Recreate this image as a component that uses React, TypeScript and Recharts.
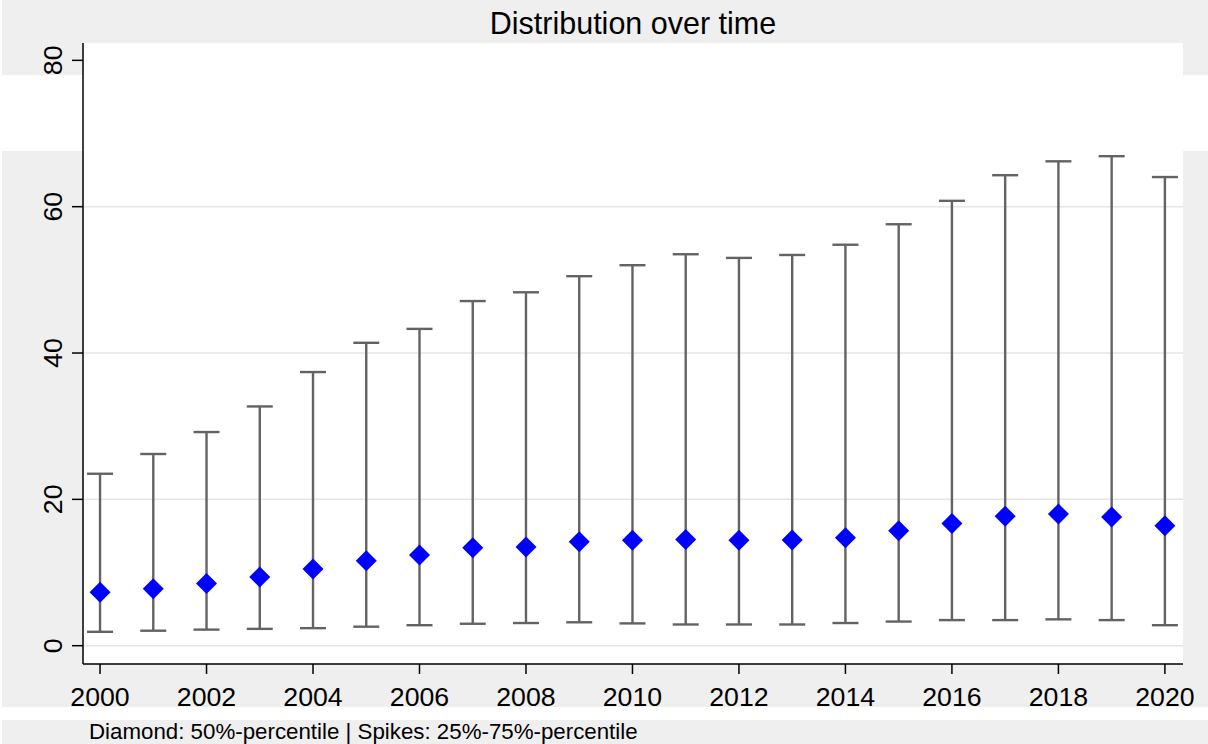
import React from "react"
import {
  ComposedChart,
  Scatter,
  ErrorBar,
  XAxis,
  YAxis,
  CartesianGrid,
} from "recharts"

const years = [
  2000, 2001, 2002, 2003, 2004, 2005, 2006, 2007, 2008, 2009, 2010,
  2011, 2012, 2013, 2014, 2015, 2016, 2017, 2018, 2019, 2020,
]
// 50th percentile (diamonds)
const median = [
  7.3, 7.8, 8.5, 9.4, 10.5, 11.6, 12.4, 13.4, 13.5, 14.2, 14.4,
  14.5, 14.4, 14.45, 14.75, 15.7, 16.7, 17.7, 18.0, 17.6, 16.4,
]
// 25th percentile (lower spike end)
const p25 = [
  1.9, 2.05, 2.2, 2.3, 2.4, 2.6, 2.8, 3.0, 3.1, 3.2, 3.05,
  2.9, 2.9, 2.9, 3.1, 3.3, 3.5, 3.5, 3.6, 3.5, 2.8,
]
// 75th percentile (upper spike end)
const p75 = [
  23.5, 26.2, 29.2, 32.7, 37.4, 41.4, 43.3, 47.1, 48.3, 50.5, 52.0,
  53.5, 53.0, 53.4, 54.8, 57.6, 60.8, 64.3, 66.2, 66.9, 64.05,
]
const xTicks = [2000, 2002, 2004, 2006, 2008, 2010, 2012, 2014, 2016, 2018, 2020]
const yTicks = [0, 20, 40, 60, 80]
const gridValues = [0, 20, 40, 60]

const rows = years.map((year, i) => ({
  year,
  median: median[i],
  spread: [median[i] - p25[i], p75[i] - median[i]],
}))

const FONT = '"Liberation Sans", Arial, Helvetica, sans-serif'

const Diamond = (props: any) => {
  const { cx, cy } = props
  const r = 10.5
  return (
    <polygon
      points={`${cx},${cy - r} ${cx + r},${cy} ${cx},${cy + r} ${cx - r},${cy}`}
      fill="#0000ff"
    />
  )
}

const YTick = (props: any) => {
  const { x, y, payload } = props
  return (
    <text
      x={x}
      y={y}
      transform={`rotate(-90, ${x}, ${y})`}
      textAnchor="middle"
      fontSize={26.7}
      fontFamily={FONT}
      fill="#000"
    >
      {payload.value}
    </text>
  )
}

const App: React.FC = () => {
  return (
    <div
      style={{
        position: "absolute",
        left: 0,
        top: 0,
        width: 1208,
        height: 744,
        background: "#efefef",
        overflow: "hidden",
        fontFamily: FONT,
      }}
    >
      {/* white bands across the background */}
      <div style={{ position: "absolute", left: 0, top: 0, width: 2, height: 744, background: "#fff" }} />
      <div style={{ position: "absolute", left: 0, top: 75, width: 1208, height: 76, background: "#fff" }} />
      <div style={{ position: "absolute", left: 0, top: 707, width: 1208, height: 13, background: "#fff" }} />

      <div
        style={{
          position: "absolute",
          left: 83,
          width: 1100,
          top: 7.5,
          fontSize: 30.5,
          lineHeight: "30.5px",
          textAlign: "center",
          color: "#000",
        }}
      >
        Distribution over time
      </div>

      <div style={{ position: "absolute", left: 0, top: 0 }}>
        <ComposedChart
          width={1208}
          height={744}
          data={rows}
          margin={{ top: 43, right: 25, bottom: 35, left: 0 }}
        >
          <CartesianGrid
            horizontal
            vertical={false}
            horizontalValues={gridValues}
            stroke="#e6e6e6"
            strokeWidth={1.5}
            fill="#ffffff"
            fillOpacity={1}
          />
          <XAxis
            type="number"
            dataKey="year"
            domain={[1999.68, 2020.34]}
            ticks={xTicks}
            allowDataOverflow
            height={45}
            tickSize={10}
            tickMargin={13}
            axisLine={{ stroke: "#000", strokeWidth: 1.5 }}
            tickLine={{ stroke: "#000", strokeWidth: 1.5 }}
            tick={{ fontSize: 26.7, fill: "#000", fontFamily: FONT }}
          />
          <YAxis
            type="number"
            domain={[-2.5, 82.37]}
            ticks={yTicks}
            allowDataOverflow
            width={83}
            tickSize={11}
            tickMargin={10}
            axisLine={{ stroke: "#000", strokeWidth: 1.5 }}
            tickLine={{ stroke: "#000", strokeWidth: 1.5 }}
            tick={<YTick />}
          />
          <Scatter
            dataKey="median"
            shape={<Diamond />}
            isAnimationActive={false}
          >
            <ErrorBar
              dataKey="spread"
              direction="y"
              width={13}
              stroke="#636363"
              strokeWidth={2.4}
              isAnimationActive={false}
            />
          </Scatter>
        </ComposedChart>
      </div>

      <div
        style={{
          position: "absolute",
          left: 89,
          top: 720.5,
          fontSize: 22.3,
          lineHeight: "22.3px",
          color: "#000",
          whiteSpace: "nowrap",
        }}
      >
        Diamond: 50%-percentile | Spikes: 25%-75%-percentile
      </div>
    </div>
  )
}

export default App
